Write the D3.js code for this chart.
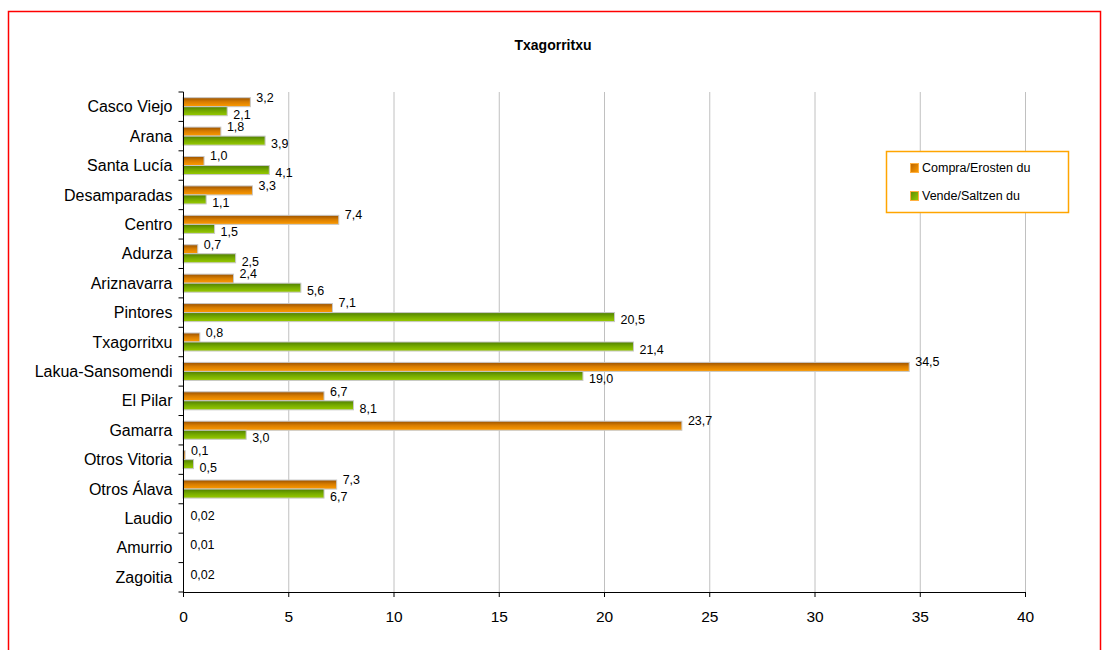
<!DOCTYPE html>
<html><head><meta charset="utf-8">
<script src="https://cdn.jsdelivr.net/npm/d3@7/dist/d3.min.js"></script>
<style>body{margin:0;background:#fff;} svg{display:block;font-family:"Liberation Sans",Arial,sans-serif;}</style>
</head><body>
<svg id="c" width="1107" height="650"></svg>
<script>
const title = "Txagorritxu";
const categories = ["Casco Viejo","Arana","Santa Lucía","Desamparadas","Centro","Adurza","Ariznavarra","Pintores","Txagorritxu","Lakua-Sansomendi","El Pilar","Gamarra","Otros Vitoria","Otros Álava","Laudio","Amurrio","Zagoitia"];
const seriesNames = ["Compra/Erosten du","Vende/Saltzen du"];
const compra = [3.2,1.8,1.0,3.3,7.4,0.7,2.4,7.1,0.8,34.5,6.7,23.7,0.1,7.3,0.02,0.01,0.02];
const vende  = [2.1,3.9,4.1,1.1,1.5,2.5,5.6,20.5,21.4,19.0,8.1,3.0,0.5,6.7,null,null,null];
const xTicks = [0,5,10,15,20,25,30,35,40];

const svg = d3.select("#c");
const defs = svg.append("defs");
function grad(id, stops){
  const g = defs.append("linearGradient").attr("id",id).attr("x1",0).attr("y1",0).attr("x2",0).attr("y2",1);
  stops.forEach(s=>g.append("stop").attr("offset",s[0]).attr("stop-color",s[1]));
}
grad("gO",[[0,"#9a5200"],[0.45,"#d77c00"],[1,"#ff9c00"]]);
grad("gG",[[0,"#4f7f00"],[0.45,"#74a800"],[1,"#99cc00"]]);

svg.append("rect").attr("x",8.5).attr("y",11.5).attr("width",1092).attr("height",700)
  .attr("fill","#fff").attr("stroke","#ff0000").attr("stroke-width",1.5);

svg.append("text").attr("x",553).attr("y",50).attr("text-anchor","middle")
  .attr("font-weight","bold").attr("font-size",14).text(title);

const x = d3.scaleLinear().domain([0,40]).range([183,1025]);
const y = d3.scaleBand().domain(categories).range([92,592]).padding(0);
const y1 = d3.scaleBand().domain(["c","v"]).range([0,y.bandwidth()]).paddingInner(0).paddingOuter(0.63);

// grid
svg.append("g").selectAll("line").data(xTicks.filter(t=>t>0)).join("line")
  .attr("x1",d=>x(d)+0.5).attr("x2",d=>x(d)+0.5).attr("y1",92).attr("y2",592)
  .attr("stroke","#c0c0c0").attr("stroke-width",1);

const fmt = v => (v < 0.05 ? v.toFixed(2) : v.toFixed(1)).replace(".",",");

const rows = categories.map((c,i)=>({c, o:compra[i], g:vende[i]}));
const gb = svg.append("g");
rows.forEach(r=>{
  if(r.o!=null){
    gb.append("rect").attr("x",x(0)).attr("y",y(r.c)+y1("c")).attr("width",Math.max(0,x(r.o)-x(0)))
      .attr("height",y1.bandwidth()).attr("fill","url(#gO)").attr("stroke","#c8c8c8").attr("stroke-width",r.o>0.05?1:0);
  }
  if(r.g!=null){
    gb.append("rect").attr("x",x(0)).attr("y",y(r.c)+y1("v")).attr("width",Math.max(0,x(r.g)-x(0)))
      .attr("height",y1.bandwidth()).attr("fill","url(#gG)").attr("stroke","#c8c8c8").attr("stroke-width",1);
  }
});
// labels
const gl = svg.append("g").attr("font-size",12.5).attr("fill","#000");
rows.forEach(r=>{
  if(r.g==null){
    gl.append("text").attr("x",x(r.o)+7).attr("y",y(r.c)+y.bandwidth()/2-3).attr("dy","0.35em").text(fmt(r.o));
    return;
  }
  gl.append("text").attr("x",x(r.o)+6).attr("y",y(r.c)+y1("c")+y1.bandwidth()/2-5).attr("dy","0.35em").text(fmt(r.o));
  gl.append("text").attr("x",x(r.g)+6).attr("y",y(r.c)+y1("v")+y1.bandwidth()/2+3).attr("dy","0.35em").text(fmt(r.g));
});

// axes
const xa = svg.append("g").attr("transform","translate(0,592)")
  .call(d3.axisBottom(x).tickValues(xTicks).tickSize(5).tickPadding(14).tickFormat(d=>d));
xa.select(".domain").attr("d","M183,0.5H1025.5").attr("stroke","#000");
xa.selectAll("text").attr("font-size",15.5).attr("font-family","Liberation Sans, Arial, sans-serif");

const ya = svg.append("g").attr("transform","translate(183.5,0)");
ya.append("line").attr("x1",0).attr("x2",0).attr("y1",92).attr("y2",592).attr("stroke","#000");
ya.selectAll("line.t").data(d3.range(categories.length+1)).join("line").attr("class","t")
  .attr("x1",-5).attr("x2",0).attr("y1",d=>92+d*y.step()).attr("y2",d=>92+d*y.step()).attr("stroke","#000");
ya.selectAll("text").data(categories).join("text")
  .attr("x",-11).attr("y",d=>y(d)+y.bandwidth()/2).attr("dy","0.35em").attr("text-anchor","end")
  .attr("font-size",16).text(d=>d);

// legend
const lg = svg.append("g");
lg.append("rect").attr("x",886.5).attr("y",151.5).attr("width",182).attr("height",61)
  .attr("fill","#fff").attr("stroke","#ffa500").attr("stroke-width",1.5);
const lgrad = defs.append("linearGradient").attr("id","lO").attr("x1",0).attr("y1",0).attr("x2",1).attr("y2",1);
lgrad.append("stop").attr("offset",0).attr("stop-color","#b86400");lgrad.append("stop").attr("offset",1).attr("stop-color","#ff9c00");
const lgrad2 = defs.append("linearGradient").attr("id","lG").attr("x1",0).attr("y1",0).attr("x2",1).attr("y2",1);
lgrad2.append("stop").attr("offset",0).attr("stop-color","#5a8a00");lgrad2.append("stop").attr("offset",1).attr("stop-color","#99cc00");
seriesNames.forEach((s,i)=>{
  const yy = 163 + i*28;
  lg.append("rect").attr("x",910.5).attr("y",yy+0.5).attr("width",8).attr("height",9)
    .attr("fill",i?"url(#lG)":"url(#lO)").attr("stroke","#ffb040").attr("stroke-width",1);
  lg.append("text").attr("x",922).attr("y",yy+5).attr("dy","0.35em").attr("font-size",12.5).text(s);
});
</script>
</body></html>
